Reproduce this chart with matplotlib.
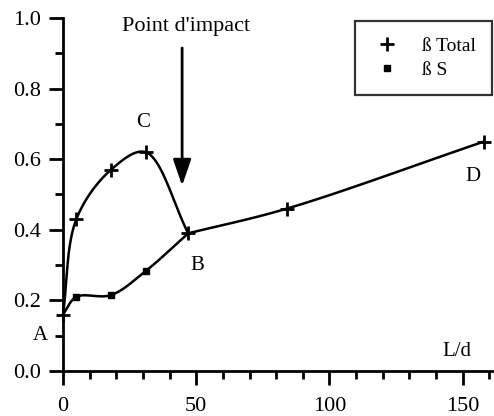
import numpy as np
import matplotlib.pyplot as plt
from matplotlib.ticker import MultipleLocator

plt.rcParams['font.family'] = ['Liberation Serif', 'DejaVu Serif']

# beta total along the jet (L/d), the S part joins it at B
ld_total = np.array([0, 5, 18, 31, 47, 84, 158])
beta_total = np.array([0.16, 0.43, 0.57, 0.62, 0.39, 0.46, 0.65])
ld_s = np.array([0, 5, 18, 31, 47])
beta_s = np.array([0.16, 0.21, 0.215, 0.283, 0.39])
i_b = 4  # index of the junction point B

x_max = 161
y_max = 1.0


def smooth(xs, ys, n=40, alpha=0.5):
    # centripetal Catmull-Rom through the measured points, in screen-like units
    sx, sy = 429.0 / x_max, 353.0 / y_max
    pts = np.column_stack([xs * sx, ys * sy]).astype(float)
    p = np.vstack([2 * pts[0] - pts[1], pts, 2 * pts[-1] - pts[-2]])
    out = []
    for i in range(1, len(p) - 2):
        p0, p1, p2, p3 = p[i - 1:i + 3]
        t0 = 0.0
        t1 = t0 + np.linalg.norm(p1 - p0) ** alpha
        t2 = t1 + np.linalg.norm(p2 - p1) ** alpha
        t3 = t2 + np.linalg.norm(p3 - p2) ** alpha
        t = np.linspace(t1, t2, n)[:, None]
        a1 = (t1 - t) / (t1 - t0) * p0 + (t - t0) / (t1 - t0) * p1
        a2 = (t2 - t) / (t2 - t1) * p1 + (t - t1) / (t2 - t1) * p2
        a3 = (t3 - t) / (t3 - t2) * p2 + (t - t2) / (t3 - t2) * p3
        b1 = (t2 - t) / (t2 - t0) * a1 + (t - t0) / (t2 - t0) * a2
        b2 = (t3 - t) / (t3 - t1) * a2 + (t - t1) / (t3 - t1) * a3
        c = (t2 - t) / (t2 - t1) * b1 + (t - t1) / (t2 - t1) * b2
        out.append(c)
    out = np.vstack(out)
    return out[:, 0] / sx, out[:, 1] / sy


fig = plt.figure(figsize=(4.94, 4.16), dpi=100)
ax = fig.add_axes([63 / 494, 1 - 371 / 416, (492 - 63) / 494, (371 - 18) / 416])

# rising branch up to B, then the common branch B -> D
for xs, ys in [(ld_total[:i_b + 1], beta_total[:i_b + 1]),
               (ld_total[i_b:], beta_total[i_b:]),
               (ld_s, beta_s)]:
    cx, cy = smooth(xs, ys)
    ax.plot(cx, cy, color='black', lw=1.8, clip_on=False)

ax.plot(ld_total, beta_total, ls='none', marker='+', ms=10, mew=2,
        color='black', label='ß Total', clip_on=False)
ax.plot(ld_s[1:4], beta_s[1:4], ls='none', marker='s', ms=5,
        color='black', label='ß S', clip_on=False)

ax.set_xlim(0, x_max)
ax.set_ylim(0, y_max)
ax.spines['top'].set_visible(False)
ax.spines['right'].set_visible(False)
for s in ('left', 'bottom'):
    ax.spines[s].set_linewidth(2)
ax.xaxis.set_major_locator(MultipleLocator(50))
ax.xaxis.set_minor_locator(MultipleLocator(10))
ax.yaxis.set_major_locator(MultipleLocator(0.2))
ax.yaxis.set_minor_locator(MultipleLocator(0.1))
ax.yaxis.set_major_formatter(plt.FormatStrFormatter('%.1f'))
ax.tick_params(which='major', direction='out', length=10, width=2,
               labelsize=16)
ax.tick_params(axis='y', which='major', pad=6)
ax.tick_params(axis='x', which='major', pad=9)
ax.tick_params(which='minor', direction='out', length=6, width=2)

ax.text(-8.5, 0.10, 'A', fontsize=15, ha='center', va='center')
ax.text(50.5, 0.30, 'B', fontsize=15, ha='center', va='center')
ax.text(30, 0.705, 'C', fontsize=15, ha='center', va='center')
ax.text(154, 0.55, 'D', fontsize=15, ha='center', va='center')
ax.text(148, 0.055, 'L/d', fontsize=15, ha='center', va='center')

ax.text(46.2, 0.975, "Point d'impact", fontsize=16, ha='center', va='center',
        clip_on=False)
ax.annotate('', xy=(44.7, 0.525), xytext=(44.7, 0.915),
            arrowprops=dict(arrowstyle='-|>,head_length=1.6,head_width=0.55',
                            color='black', lw=2, shrinkA=0, shrinkB=0))

leg = ax.legend(loc='upper right', bbox_to_anchor=(492 / 494, 1 - 21 / 416),
                bbox_transform=fig.transFigure, borderaxespad=0, fontsize=14,
                frameon=True, fancybox=False, edgecolor='black',
                handletextpad=1.0, borderpad=0.85, labelspacing=0.3,
                handlelength=1.6)
leg.get_frame().set_linewidth(1.6)

fig.savefig('out.png', dpi=100)
